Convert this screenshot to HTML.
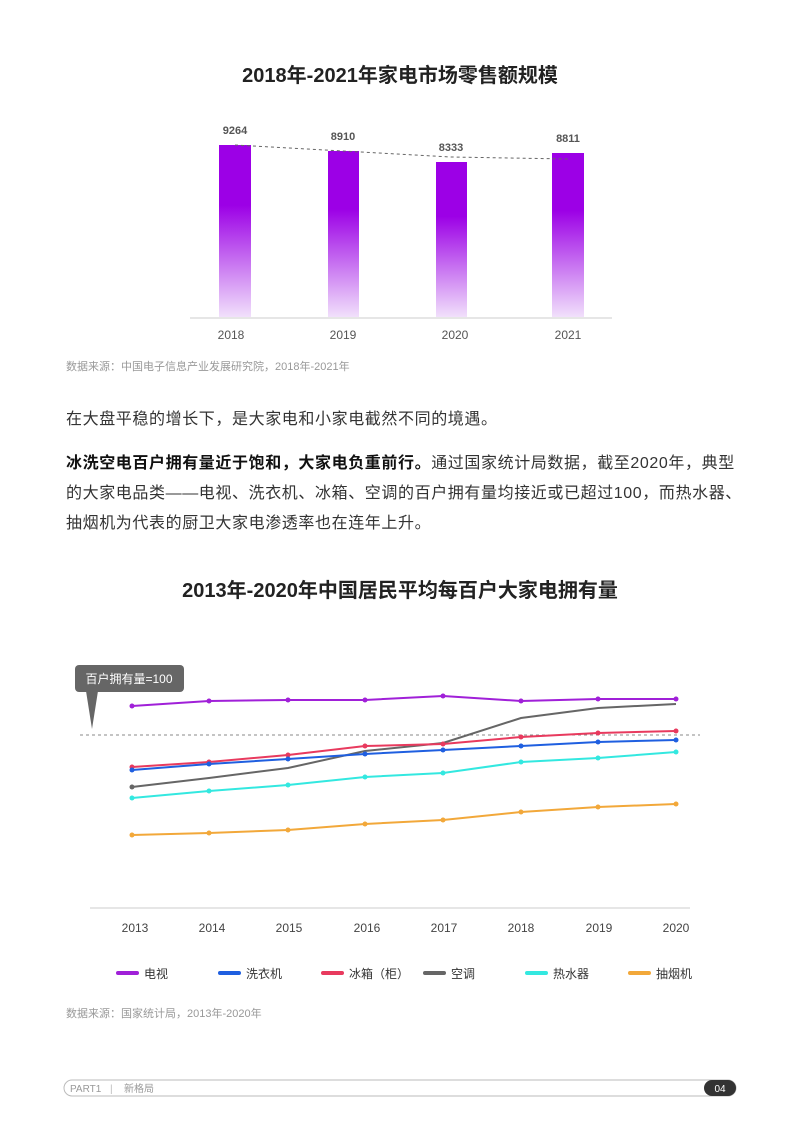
<!DOCTYPE html>
<html><head><meta charset="utf-8"><style>
body{margin:0;background:#fff;width:800px;height:1132px;overflow:hidden;font-family:"Liberation Sans","Noto Sans CJK SC",sans-serif}
svg text{font-family:"Liberation Sans","Noto Sans CJK SC",sans-serif}
.p{position:absolute;left:66px;font-size:16px;color:#333;line-height:30px;width:700px;letter-spacing:0.6px;white-space:nowrap}
</style></head><body>
<svg width="800" height="1132" style="position:absolute;left:0;top:0">
<defs><linearGradient id="g" x1="0" y1="0" x2="0" y2="1">
<stop offset="0" stop-color="#9c00e6"/><stop offset="0.35" stop-color="#9c00e6"/><stop offset="1" stop-color="#f1e0fb"/></linearGradient></defs>
<text x="400" y="82" text-anchor="middle" font-size="20" font-weight="bold" fill="#222">2018年-2021年家电市场零售额规模</text>
<rect x="219" y="145" width="32" height="172" fill="url(#g)"/>
<rect x="328" y="151" width="31" height="166" fill="url(#g)"/>
<rect x="436" y="162" width="31" height="155" fill="url(#g)"/>
<rect x="552" y="153" width="32" height="164" fill="url(#g)"/>
<polyline points="235,145 343,151 451,157 568,159" fill="none" stroke="#666" stroke-dasharray="3,3" stroke-width="1"/>
<line x1="190" y1="318" x2="612" y2="318" stroke="#ccc"/>
<g font-size="11" font-weight="bold" fill="#555" text-anchor="middle">
<text x="235" y="134">9264</text><text x="343" y="140">8910</text><text x="451" y="151">8333</text><text x="568" y="142">8811</text></g>
<g font-size="12" fill="#555" text-anchor="middle">
<text x="231" y="339">2018</text><text x="343" y="339">2019</text><text x="455" y="339">2020</text><text x="568" y="339">2021</text></g>
<text x="66" y="370" font-size="11" fill="#999">数据来源：中国电子信息产业发展研究院，2018年-2021年</text>

<text x="400" y="597" text-anchor="middle" font-size="20" font-weight="bold" fill="#222">2013年-2020年中国居民平均每百户大家电拥有量</text>
<rect x="75" y="665" width="109" height="27" rx="4" fill="#666"/>
<polygon points="86,691 98,691 92,729" fill="#666"/>
<text x="129" y="683" text-anchor="middle" font-size="12" fill="#fff">百户拥有量=100</text>
<line x1="80" y1="735" x2="700" y2="735" stroke="#888" stroke-dasharray="3,3"/>
<g fill="none" stroke-width="2">
<polyline stroke="#a020d8" points="132,706 209,701 288,700 365,700 443,696 521,701 598,699 676,699"/>
<polyline stroke="#666" points="132,787 209,778 288,768 365,751 443,743 521,718 598,708 676,704"/>
<polyline stroke="#e83a5e" points="132,767 209,762 288,755 365,746 443,744 521,737 598,733 676,731"/>
<polyline stroke="#1f5fe0" points="132,770 209,764 288,759 365,754 443,750 521,746 598,742 676,740"/>
<polyline stroke="#33e8e0" points="132,798 209,791 288,785 365,777 443,773 521,762 598,758 676,752"/>
<polyline stroke="#f2a83a" points="132,835 209,833 288,830 365,824 443,820 521,812 598,807 676,804"/>
</g>
<g>
<g fill="#a020d8"><circle cx="132" cy="706" r="2.5"/><circle cx="209" cy="701" r="2.5"/><circle cx="288" cy="700" r="2.5"/><circle cx="365" cy="700" r="2.5"/><circle cx="443" cy="696" r="2.5"/><circle cx="521" cy="701" r="2.5"/><circle cx="598" cy="699" r="2.5"/><circle cx="676" cy="699" r="2.5"/></g>
<g fill="#e83a5e"><circle cx="132" cy="767" r="2.5"/><circle cx="209" cy="762" r="2.5"/><circle cx="288" cy="755" r="2.5"/><circle cx="365" cy="746" r="2.5"/><circle cx="443" cy="744" r="2.5"/><circle cx="521" cy="737" r="2.5"/><circle cx="598" cy="733" r="2.5"/><circle cx="676" cy="731" r="2.5"/></g>
<g fill="#1f5fe0"><circle cx="132" cy="770" r="2.5"/><circle cx="209" cy="764" r="2.5"/><circle cx="288" cy="759" r="2.5"/><circle cx="365" cy="754" r="2.5"/><circle cx="443" cy="750" r="2.5"/><circle cx="521" cy="746" r="2.5"/><circle cx="598" cy="742" r="2.5"/><circle cx="676" cy="740" r="2.5"/></g>
<g fill="#33e8e0"><circle cx="132" cy="798" r="2.5"/><circle cx="209" cy="791" r="2.5"/><circle cx="288" cy="785" r="2.5"/><circle cx="365" cy="777" r="2.5"/><circle cx="443" cy="773" r="2.5"/><circle cx="521" cy="762" r="2.5"/><circle cx="598" cy="758" r="2.5"/><circle cx="676" cy="752" r="2.5"/></g>
<g fill="#f2a83a"><circle cx="132" cy="835" r="2.5"/><circle cx="209" cy="833" r="2.5"/><circle cx="288" cy="830" r="2.5"/><circle cx="365" cy="824" r="2.5"/><circle cx="443" cy="820" r="2.5"/><circle cx="521" cy="812" r="2.5"/><circle cx="598" cy="807" r="2.5"/><circle cx="676" cy="804" r="2.5"/></g>
<circle cx="132" cy="787" r="2.5" fill="#666"/>
</g>
<line x1="90" y1="908" x2="690" y2="908" stroke="#ccc"/>
<g font-size="12" fill="#444" text-anchor="middle">
<text x="135" y="932">2013</text><text x="212" y="932">2014</text><text x="289" y="932">2015</text><text x="367" y="932">2016</text><text x="444" y="932">2017</text><text x="521" y="932">2018</text><text x="599" y="932">2019</text><text x="676" y="932">2020</text></g>
<g stroke-width="4" stroke-linecap="round">
<line x1="118" y1="973" x2="137" y2="973" stroke="#a020d8"/>
<line x1="220" y1="973" x2="239" y2="973" stroke="#1f5fe0"/>
<line x1="323" y1="973" x2="342" y2="973" stroke="#e83a5e"/>
<line x1="425" y1="973" x2="444" y2="973" stroke="#666"/>
<line x1="527" y1="973" x2="546" y2="973" stroke="#33e8e0"/>
<line x1="630" y1="973" x2="649" y2="973" stroke="#f2a83a"/>
</g>
<g font-size="12" fill="#333">
<text x="144" y="978">电视</text><text x="246" y="978">洗衣机</text><text x="349" y="978">冰箱（柜）</text><text x="451" y="978">空调</text><text x="553" y="978">热水器</text><text x="656" y="978">抽烟机</text></g>
<text x="66" y="1017" font-size="11" fill="#999">数据来源：国家统计局，2013年-2020年</text>

<rect x="64" y="1080" width="672" height="16" rx="8" fill="#fff" stroke="#bbb"/>
<rect x="704" y="1080" width="32" height="16" rx="8" fill="#333"/>
<text x="720" y="1092" text-anchor="middle" font-size="10" fill="#fff">04</text>
<text x="70" y="1092" font-size="10" fill="#999">PART1</text>
<text x="110" y="1092" font-size="10" fill="#bbb">|</text>
<text x="124" y="1092" font-size="10" fill="#999">新格局</text>
</svg>
<div class="p" style="top:405px">在大盘平稳的增长下，是大家电和小家电截然不同的境遇。</div>
<div class="p" style="top:449px"><b style="color:#111">冰洗空电百户拥有量近于饱和，大家电负重前行。</b>通过国家统计局数据，截至2020年，典型<br>的大家电品类——电视、洗衣机、冰箱、空调的百户拥有量均接近或已超过100，而热水器、<br>抽烟机为代表的厨卫大家电渗透率也在连年上升。</div>
</body></html>
